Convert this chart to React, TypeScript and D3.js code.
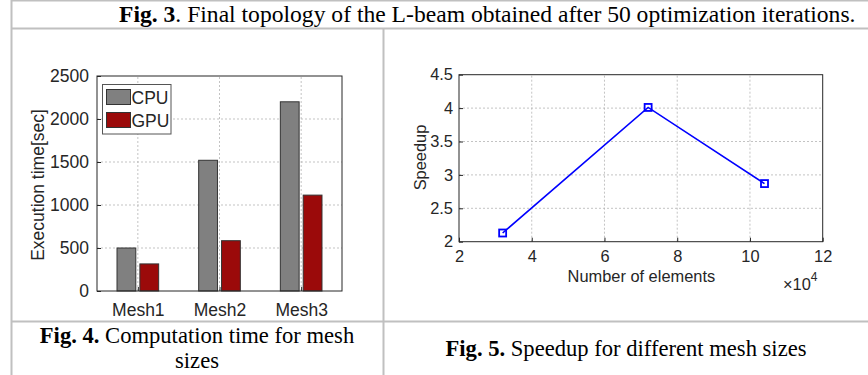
import React, { useEffect, useRef } from "react";
import * as d3 from "d3";

// Fig. 4 — execution time per mesh
const meshes = ["Mesh1", "Mesh2", "Mesh3"];
const cpuTime = [500, 1520, 2200];
const gpuTime = [315, 585, 1115];
const timeTicks = [0, 500, 1000, 1500, 2000, 2500];
const seriesNames = ["CPU", "GPU"];
const seriesColors = ["#808080", "#9b0a0a"];

// Fig. 5 — speedup vs number of elements (x in units of 10^4)
const elementCount = [3.2, 7.2, 10.4];
const speedup = [2.13, 4.01, 2.87];
const elemTicks = [2, 4, 6, 8, 10, 12];
const speedTicks = [2, 2.5, 3, 3.5, 4, 4.5];

const SANS = "'Liberation Sans', Arial, sans-serif";
const SERIF = "'Liberation Serif', 'Times New Roman', serif";
const AX = "#262626";
const GRID = "#b4b4b4";

const App = () => {
  const ref = useRef<SVGSVGElement | null>(null);

  useEffect(() => {
    const svg = d3.select(ref.current);
    svg.selectAll("*").remove();

    // table frame
    const frame = svg.append("g").attr("stroke", "#c0c0c0").attr("stroke-width", 2);
    frame.append("line").attr("x1", 11).attr("x2", 868).attr("y1", 0.5).attr("y2", 0.5);
    frame.append("line").attr("x1", 11).attr("x2", 868).attr("y1", 28.5).attr("y2", 28.5);
    frame.append("line").attr("x1", 11).attr("x2", 868).attr("y1", 321.5).attr("y2", 321.5);
    frame.append("line").attr("x1", 11.5).attr("x2", 11.5).attr("y1", 0).attr("y2", 375);
    frame.append("line").attr("x1", 383.5).attr("x2", 383.5).attr("y1", 28).attr("y2", 375);

    // captions
    const cap = (x: number, y: number, bold: string, rest: string, anchor = "start", fs = 22.6) => {
      const t = svg.append("text").attr("x", x).attr("y", y).attr("text-anchor", anchor)
        .attr("font-family", SERIF).attr("font-size", fs).attr("fill", "#000");
      t.append("tspan").attr("font-weight", "bold").text(bold);
      t.append("tspan").text(rest);
    };
    cap(119, 22, "Fig. 3", ". Final topology of the L-beam obtained after 50 optimization iterations.", "start", 23.6);
    cap(197, 343, "Fig. 4.", " Computation time for mesh", "middle");
    svg.append("text").attr("x", 197).attr("y", 368).attr("text-anchor", "middle")
      .attr("font-family", SERIF).attr("font-size", 22.6).text("sizes");
    cap(626, 356, "Fig. 5.", " Speedup for different mesh sizes", "middle");

    // ---------- bar chart ----------
    {
      const fs = 17.5;
      const x = d3.scaleLinear().domain([0.5, 3.5]).range([97, 342]);
      const y = d3.scaleLinear().domain([0, 2500]).range([291, 76]);
      const g = svg.append("g");

      // grid
      g.selectAll(".hg").data(timeTicks.slice(1, -1)).enter().append("line")
        .attr("x1", x(0.5)).attr("x2", x(3.5)).attr("y1", (d) => y(d)).attr("y2", (d) => y(d))
        .attr("stroke", GRID).attr("stroke-dasharray", "2,2").attr("stroke-width", 0.8);
      g.selectAll(".vg").data(meshes).enter().append("line")
        .attr("x1", (_, i) => x(i + 1)).attr("x2", (_, i) => x(i + 1))
        .attr("y1", y(0)).attr("y2", y(2500))
        .attr("stroke", GRID).attr("stroke-dasharray", "2,2").attr("stroke-width", 0.8);

      const bw = 0.23, off = 0.14;
      [cpuTime, gpuTime].forEach((vals, s) => {
        g.selectAll(".b" + s).data(vals).enter().append("rect")
          .attr("x", (_, i) => x(i + 1 + (s === 0 ? -off : off) - bw / 2))
          .attr("width", x(bw) - x(0))
          .attr("y", (d) => y(d))
          .attr("height", (d) => y(0) - y(d))
          .attr("fill", seriesColors[s]).attr("stroke", "#333").attr("stroke-width", 1);
      });

      // box + ticks
      g.append("rect").attr("x", x(0.5)).attr("y", y(2500)).attr("width", x(3.5) - x(0.5))
        .attr("height", y(0) - y(2500)).attr("fill", "none").attr("stroke", AX).attr("stroke-width", 1);

      const yAxis = g.append("g").attr("transform", `translate(${x(0.5)},0)`)
        .call(d3.axisLeft(y).tickValues(timeTicks).tickFormat(d3.format("d")).tickSizeInner(-4).tickSizeOuter(0).tickPadding(8));
      yAxis.select(".domain").remove();
      yAxis.selectAll("line").attr("stroke", AX);
      yAxis.selectAll("text").attr("font-family", SANS).attr("font-size", fs).attr("fill", AX);

      const xAxis = g.append("g").attr("transform", `translate(0,${y(0)})`)
        .call(d3.axisBottom(x).tickValues([1, 2, 3]).tickFormat((d) => meshes[(d as number) - 1]).tickSizeInner(-4).tickSizeOuter(0).tickPadding(13));
      xAxis.select(".domain").remove();
      xAxis.selectAll("line").attr("stroke", AX);
      xAxis.selectAll("text").attr("font-family", SANS).attr("font-size", fs).attr("fill", AX);

      g.append("text").attr("transform", `translate(44,185) rotate(-90)`).attr("text-anchor", "middle")
        .attr("font-family", SANS).attr("font-size", fs).attr("fill", AX).text("Execution time[sec]");

      // legend
      const lg = g.append("g");
      lg.append("rect").attr("x", 102.5).attr("y", 84.5).attr("width", 68.5).attr("height", 49.5)
        .attr("fill", "#fff").attr("stroke", "#555").attr("stroke-width", 1);
      seriesNames.forEach((n, i) => {
        lg.append("rect").attr("x", 106.5).attr("y", 89.5 + i * 23).attr("width", 24).attr("height", 15)
          .attr("fill", seriesColors[i]).attr("stroke", "#333").attr("stroke-width", 1);
        lg.append("text").attr("x", 131.5).attr("y", 103.5 + i * 23)
          .attr("font-family", SANS).attr("font-size", fs).attr("fill", AX).text(n);
      });
    }

    // ---------- speedup chart ----------
    {
      const fs = 16.4;
      const x = d3.scaleLinear().domain([2, 12]).range([459, 822.7]);
      const y = d3.scaleLinear().domain([2, 4.5]).range([241.7, 74.7]);
      const g = svg.append("g");

      g.selectAll(".hg").data(speedTicks.slice(1, -1)).enter().append("line")
        .attr("x1", x(2)).attr("x2", x(12)).attr("y1", (d) => y(d)).attr("y2", (d) => y(d))
        .attr("stroke", GRID).attr("stroke-dasharray", "2,2").attr("stroke-width", 0.8);
      g.selectAll(".vg").data(elemTicks.slice(1, -1)).enter().append("line")
        .attr("x1", (d) => x(d)).attr("x2", (d) => x(d)).attr("y1", y(2)).attr("y2", y(4.5))
        .attr("stroke", GRID).attr("stroke-dasharray", "2,2").attr("stroke-width", 0.8);

      g.append("rect").attr("x", x(2)).attr("y", y(4.5)).attr("width", x(12) - x(2))
        .attr("height", y(2) - y(4.5)).attr("fill", "none").attr("stroke", AX).attr("stroke-width", 1);

      const yAxis = g.append("g").attr("transform", `translate(${x(2)},0)`)
        .call(d3.axisLeft(y).tickValues(speedTicks).tickFormat(d3.format("~g")).tickSizeInner(-4).tickSizeOuter(0).tickPadding(6));
      yAxis.select(".domain").remove();
      yAxis.selectAll("line").attr("stroke", AX);
      yAxis.selectAll("text").attr("font-family", SANS).attr("font-size", fs).attr("fill", AX);

      const xAxis = g.append("g").attr("transform", `translate(0,${y(2)})`)
        .call(d3.axisBottom(x).tickValues(elemTicks).tickFormat(d3.format("~g")).tickSizeInner(-4).tickSizeOuter(0).tickPadding(9));
      xAxis.select(".domain").remove();
      xAxis.selectAll("line").attr("stroke", AX);
      xAxis.selectAll("text").attr("font-family", SANS).attr("font-size", fs).attr("fill", AX);

      const pts = elementCount.map((e, i) => [e, speedup[i]] as [number, number]);
      const line = d3.line<[number, number]>().x((d) => x(d[0])).y((d) => y(d[1]));
      g.append("path").attr("d", line(pts)).attr("fill", "none").attr("stroke", "#0000ff").attr("stroke-width", 1.6);
      g.selectAll(".m").data(pts).enter().append("rect")
        .attr("x", (d) => x(d[0]) - 3.5).attr("y", (d) => y(d[1]) - 3.5)
        .attr("width", 7).attr("height", 7).attr("fill", "none").attr("stroke", "#0000ff").attr("stroke-width", 1.8);

      g.append("text").attr("x", (x(2) + x(12)) / 2 + 0.5).attr("y", 282).attr("text-anchor", "middle")
        .attr("font-family", SANS).attr("font-size", fs).attr("fill", AX).text("Number of elements");
      g.append("text").attr("transform", `translate(426,157.5) rotate(-90)`).attr("text-anchor", "middle")
        .attr("font-family", SANS).attr("font-size", fs).attr("fill", AX).text("Speedup");

      const ex = g.append("text").attr("x", 783).attr("y", 290)
        .attr("font-family", SANS).attr("font-size", fs).attr("fill", AX);
      ex.append("tspan").text("×10");
      ex.append("tspan").attr("font-size", 12).attr("dy", -9).text("4");
    }
  }, []);

  return (
    <svg ref={ref} width={868} height={375}
      style={{ position: "absolute", left: 0, top: 0, background: "#fff" }} />
  );
};

export default App;
